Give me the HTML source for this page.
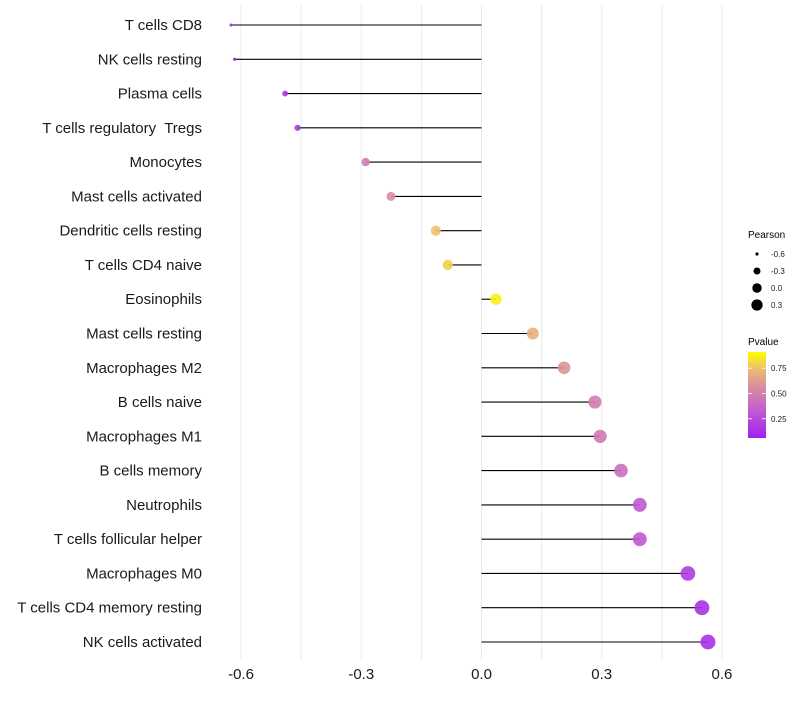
<!DOCTYPE html>
<html><head><meta charset="utf-8"><style>
body{margin:0;background:#fff;font-family:"Liberation Sans",sans-serif}
svg text{font-family:"Liberation Sans",sans-serif;white-space:pre}
</style></head><body>
<svg id="chart" width="800" height="700" xmlns="http://www.w3.org/2000/svg">
<g id="grid"></g>
<g id="marks"></g>
<g id="ylabels"></g>
<g id="xlabels"></g>
<g id="legend">
 <text x="748" y="238" font-size="10" fill="#000">Pearson</text>
 <g id="sizeLegend"></g>
 <text x="748" y="345" font-size="10" fill="#000">Pvalue</text>
 <defs><linearGradient id="pg" x1="0" y1="1" x2="0" y2="0">
  <stop offset="0" stop-color="#A020F0"/><stop offset="0.35" stop-color="#C462CB"/>
  <stop offset="0.6" stop-color="#D98F9E"/><stop offset="0.8" stop-color="#EDBB72"/>
  <stop offset="1" stop-color="#FFFF00"/></linearGradient></defs>
 <rect x="748" y="352" width="18" height="86" fill="url(#pg)"/>
 <g id="colorTicks"></g>
</g>
</svg>
<script>
const categories=["T cells CD8","NK cells resting","Plasma cells","T cells regulatory  Tregs","Monocytes","Mast cells activated","Dendritic cells resting","T cells CD4 naive","Eosinophils","Mast cells resting","Macrophages M2","B cells naive","Macrophages M1","B cells memory","Neutrophils","T cells follicular helper","Macrophages M0","T cells CD4 memory resting","NK cells activated"];
const pearson=[-0.625,-0.616,-0.49,-0.459,-0.289,-0.226,-0.114,-0.084,0.036,0.128,0.206,0.283,0.296,0.348,0.395,0.395,0.515,0.55,0.565];
const pvalues=[0.02,0.03,0.12,0.14,0.5,0.6,0.82,0.86,0.95,0.75,0.62,0.5,0.48,0.42,0.3,0.3,0.15,0.1,0.09];
const xTicks=[-0.6,-0.3,0.0,0.3,0.6];
const xTickLabels=["-0.6","-0.3","0.0","0.3","0.6"];
const sizeLegendVals=[-0.6,-0.3,0.0,0.3];
const sizeLegendLabels=["-0.6","-0.3","0.0","0.3"];
const colorTickVals=[0.25,0.5,0.75];
const colorTickLabels=["0.25","0.50","0.75"];

const NS="http://www.w3.org/2000/svg";
const xs=v=>481.5+v*400.8;
const ys=i=>25+i*(617/18);
const rs=v=>Math.sqrt(Math.max(2.25,2.25+54*(v+0.625)/1.19));
const stops=[[0,[160,32,240]],[0.35,[196,98,203]],[0.6,[217,143,158]],[0.8,[237,187,114]],[1,[255,255,0]]];
const pmin=0.0,pmax=1.0;
function col(p){let t=(p-pmin)/(pmax-pmin);t=Math.max(0,Math.min(1,t));
 for(let k=1;k<stops.length;k++){if(t<=stops[k][0]){const a=stops[k-1],b=stops[k];const f=(t-a[0])/(b[0]-a[0]);
 return "rgb("+a[1].map((c,j)=>Math.round(c+(b[1][j]-c)*f)).join(",")+")";}}return "rgb(255,255,0)";}
function mk(t,at,parent){const e=document.createElementNS(NS,t);for(const k in at)e.setAttribute(k,at[k]);parent.appendChild(e);return e;}
const grid=document.getElementById('grid');
for(let v=-0.6;v<=0.601;v+=0.15){
 const l=mk('line',{x1:xs(v),x2:xs(v),y1:5,y2:660,stroke:'#ebebeb','stroke-width':1},grid);
 
 
}
const marks=document.getElementById('marks'),yl=document.getElementById('ylabels'),xl=document.getElementById('xlabels');
categories.forEach((c,i)=>{
 const y=ys(i);
 const ln=mk('line',{x1:xs(0),x2:xs(pearson[i]),y1:y,y2:y,stroke:'#000','stroke-width':1.1},marks);
 
 
 const pt=mk('circle',{cx:xs(pearson[i]),cy:y,r:rs(pearson[i]),fill:col(pvalues[i]),'fill-opacity':0.9},marks);
 
 
 const tx=mk('text',{x:202,y:y+5,'text-anchor':'end','font-size':15,fill:'#1a1a1a'},yl);tx.textContent=c;
 
 
});
xTicks.forEach((v,i)=>{
 const t=mk('text',{x:xs(v),y:679,'text-anchor':'middle','font-size':15,fill:'#1a1a1a'},xl);t.textContent=xTickLabels[i];
 
 
});
const sl=document.getElementById('sizeLegend');
sizeLegendVals.forEach((v,i)=>{
 const y=254+i*17;
 const c=mk('circle',{cx:757,cy:y,r:rs(v)*0.85,fill:'#000'},sl);
 
 
 const t=mk('text',{x:771,y:y+3,'font-size':8,fill:'#1a1a1a'},sl);t.textContent=sizeLegendLabels[i];
 
 
});
const ct=document.getElementById('colorTicks');
colorTickVals.forEach((v,i)=>{
 const y=438-(v-0.06)/(0.91-0.06)*86;
 mk('line',{x1:748,x2:752,y1:y,y2:y,stroke:'#fff','stroke-width':0.8},ct);
 mk('line',{x1:762,x2:766,y1:y,y2:y,stroke:'#fff','stroke-width':0.8},ct);
 const t=mk('text',{x:771,y:y+3,'font-size':8,fill:'#1a1a1a'},ct);t.textContent=colorTickLabels[i];
 
 
});
</script>
</body></html>
